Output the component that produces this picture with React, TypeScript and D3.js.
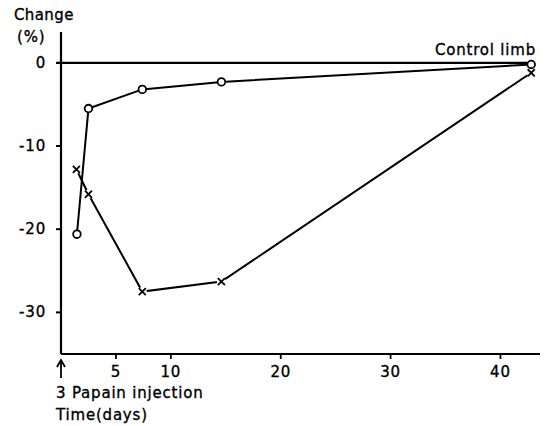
import React from "react";
import * as d3 from "d3";

// papain-treated limb (circles) and the other series (crosses), change in %
const days = [1.45, 2.5, 7.4, 14.6, 42.8];
const circleValues = [-20.6, -5.5, -3.2, -2.3, -0.2];
const crossDays = [1.4, 2.5, 7.4, 14.6, 42.8];
const crossValues = [-12.8, -15.8, -27.5, -26.3, -1.2];
const xTicks = [5, 10, 20, 30, 40];
const yTicks = [0, -10, -20, -30];
const yTickLabels = ["0", "-10", "-20", "-30"];

const W = 547;
const H = 426;
const font = "'DejaVu Sans', sans-serif";

const App = () => {
  const x = d3.scaleLinear().domain([0, 43.6]).range([61, 540]);
  const y = d3.scaleLinear().domain([-35, 3.7]).range([354, 32]);

  const line = d3.line<[number, number]>()
    .x(d => x(d[0]))
    .y(d => y(d[1]));

  const circlePts: [number, number][] = days.map((d, i) => [d, circleValues[i]]);
  const crossPts: [number, number][] = crossDays.map((d, i) => [d, crossValues[i]]);
  const cross = d3.symbol().type(d3.symbolX).size(34)();

  // slightly heavier text, like the printed original
  const txt = { stroke: "#000", strokeWidth: 0.35, letterSpacing: 0.8, fontSize: 15 };

  return (
    <svg width={W} height={H} style={{ position: "absolute", left: 0, top: 0, background: "#fff" }}
      fontFamily={font}>
      {/* axes */}
      <line x1={x(0)} x2={x(0)} y1={y.range()[1]} y2={y.range()[0]} stroke="#000" strokeWidth={2.2} />
      <line x1={x(0)} x2={x.range()[1]} y1={y(-35)} y2={y(-35)} stroke="#000" strokeWidth={2} />
      {/* zero (control limb) line */}
      <line x1={x(0) - 5} x2={x(42.8)} y1={y(0)} y2={y(0)} stroke="#000" strokeWidth={2.2} />

      {yTicks.map((t, i) => (
        <g key={t}>
          {t !== 0 && <line x1={x(0) - 5} x2={x(0)} y1={y(t)} y2={y(t)} stroke="#000" strokeWidth={2} />}
          <text x={46} y={y(t) + 5} textAnchor="end" {...txt}>{yTickLabels[i]}</text>
        </g>
      ))}
      {xTicks.map(t => (
        <g key={t}>
          <line x1={x(t)} x2={x(t)} y1={y(-35)} y2={y(-35) + 5} stroke="#000" strokeWidth={1.8} />
          <text x={x(t)} y={377} textAnchor="middle" {...txt}>{t}</text>
        </g>
      ))}

      {/* injection arrow */}
      <line x1={x(0)} x2={x(0)} y1={362} y2={378} stroke="#000" strokeWidth={1.8} />
      <path d={`M${x(0) - 4},${367} L${x(0)},${360} L${x(0) + 4},${367}`} fill="none" stroke="#000" strokeWidth={1.8} />
      <text x={56} y={398} {...txt}>3 Papain injection</text>
      <text x={56} y={420} {...txt}>Time(days)</text>

      <text x={14} y={20} {...txt} letterSpacing={0.4}>Change</text>
      <text x={17} y={42} {...txt}>(%)</text>
      <text x={536} y={55} textAnchor="end" {...txt}>Control limb</text>

      {/* series */}
      <path d={line(crossPts) ?? ""} fill="none" stroke="#000" strokeWidth={2} />
      <path d={line(circlePts) ?? ""} fill="none" stroke="#000" strokeWidth={2} />
      {crossPts.map((p, i) => (
        <g key={"x" + i} transform={`translate(${x(p[0])},${y(p[1])})`}>
          <circle r={4.5} fill="#fff" />
          <path d={cross ?? ""} fill="none" stroke="#000" strokeWidth={1.8} />
        </g>
      ))}
      {circlePts.map((p, i) => (
        <circle key={"o" + i} cx={x(p[0])} cy={y(p[1])} r={3.8} fill="#fff" stroke="#000" strokeWidth={1.8} />
      ))}
    </svg>
  );
};

export default App;
